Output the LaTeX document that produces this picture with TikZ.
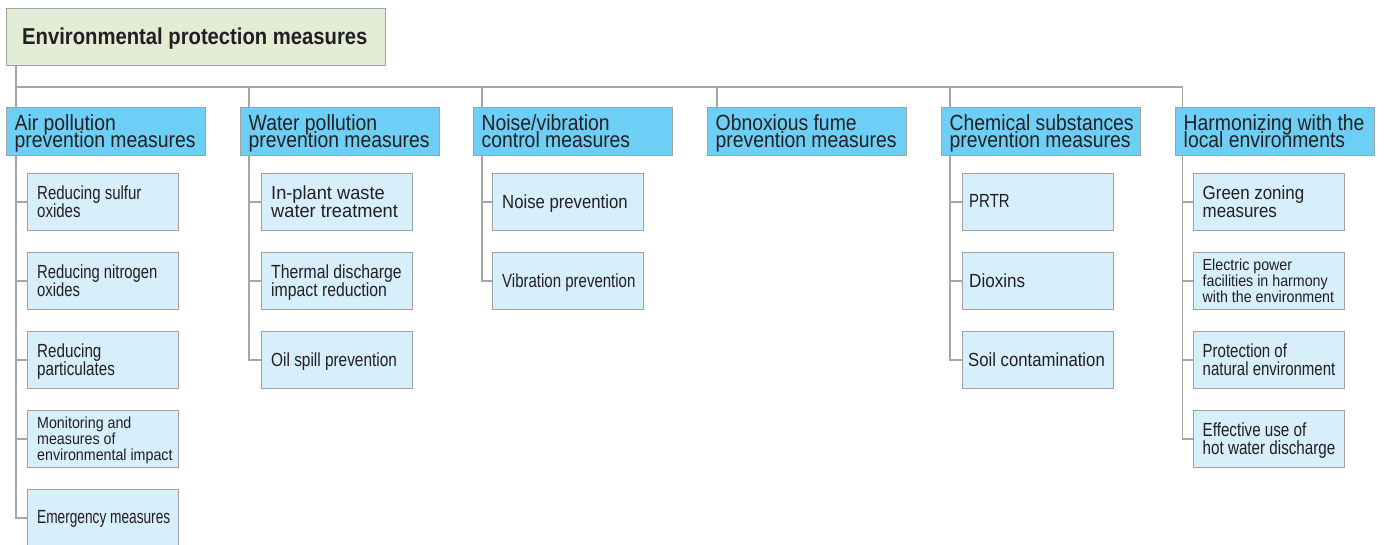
\documentclass[tikz,border=0pt]{standalone}
\usepackage{fontspec}
\setmainfont{Liberation Sans}
\definecolor{headfill}{HTML}{E3ECD4}
\definecolor{groupfill}{HTML}{6DCFF6}
\definecolor{itemfill}{HTML}{D7EEFB}
\definecolor{edgegray}{HTML}{9FA1A4}
\definecolor{wiregray}{HTML}{A4A6A9}
\definecolor{ink}{HTML}{231F20}

% box node plus its label, placed by the label's top-left corner inside the box
% #1 name, #2 box style, #3 x, #4 y, #5 label dx, #6 label dy, #7 label style, #8 text
\newcommand\putbox[8]{%
  \node[#2] (#1) at (#3,#4) {};
  \node[#7] (#1-t) at ([shift={(#5,#6)}]#1.north west) {#8};}

\begin{document}
% tight leading: keep baselines fixed even where descenders meet ascenders
\lineskiplimit=-100pt
\begin{tikzpicture}[x=1pt,y=-1pt,
  frame/.style={draw=edgegray, line width=1.4pt, rectangle, inner sep=0pt, anchor=north west},
  headbox/.style={frame, fill=headfill, minimum width=379pt, minimum height=57pt},
  groupbox/.style={frame, fill=groupfill, minimum width=199pt, minimum height=48pt},
  itembox/.style={frame, fill=itemfill, minimum width=151pt, minimum height=57pt},
  wire/.style={draw=wiregray, line width=1.9pt},
  lbl/.style={anchor=north west, align=left, inner sep=0pt, text=ink},
  headlbl/.style={lbl, font=\fontsize{23}{23}\selectfont\bfseries\addfontfeatures{FakeStretch=0.88}},
  grouplbl/.style={lbl, font=\fontsize{22}{16.5}\selectfont\addfontfeatures{FakeStretch=0.88}},
  itemlbl/.style={lbl, font=\fontsize{19}{17.3}\selectfont\addfontfeatures{FakeStretch=#1}},
  smalllbl/.style={lbl, font=\fontsize{16}{15.8}\selectfont\addfontfeatures{FakeStretch=0.89}},
]
\useasboundingbox (0,0) rectangle (1384,544);
\clip (0,0) rectangle (1384,544);

% title
\putbox{head}{headbox}{6}{7.5}{16}{20.5}{headlbl}{Environmental protection measures}

% groups
\putbox{air}{groupbox}{6}{107}{8.5}{7.5}{grouplbl}{Air pollution\\prevention measures}
\putbox{water}{groupbox}{240}{107}{8.5}{7.5}{grouplbl}{Water pollution\\prevention measures}
\putbox{noise}{groupbox}{473}{107}{8.5}{7.5}{grouplbl}{Noise/vibration\\control measures}
\putbox{fume}{groupbox}{707}{107}{8.5}{7.5}{grouplbl}{Obnoxious fume\\prevention measures}
\putbox{chem}{groupbox}{941}{107}{8.5}{7.5}{grouplbl}{Chemical substances\\prevention measures}
\putbox{local}{groupbox}{1175}{107}{8.5}{7.5}{grouplbl}{Harmonizing with the\\local environments}

% air pollution items
\putbox{air1}{itembox}{27}{173}{10}{13}{itemlbl=0.79}{Reducing sulfur\\oxides}
\putbox{air2}{itembox}{27}{252}{10}{13}{itemlbl=0.78}{Reducing nitrogen\\oxides}
\putbox{air3}{itembox}{27}{331}{10}{13}{itemlbl=0.80}{Reducing\\particulates}
\putbox{air4}{itembox}{27}{410}{10}{7}{smalllbl}{Monitoring and\\measures of\\environmental impact}
\putbox{air5}{itembox}{27}{489}{10}{21.7}{itemlbl=0.72}{Emergency measures}

% water pollution items
\putbox{water1}{itembox}{261}{173}{10}{13}{itemlbl=0.96}{In-plant waste\\water treatment}
\putbox{water2}{itembox}{261}{252}{10}{13}{itemlbl=0.83}{Thermal discharge\\impact reduction}
\putbox{water3}{itembox}{261}{331}{10}{21.7}{itemlbl=0.81}{Oil spill prevention}

% noise items
\putbox{noise1}{itembox}{492}{173}{10}{21.7}{itemlbl=0.88}{Noise prevention}
\putbox{noise2}{itembox}{492}{252}{10}{21.7}{itemlbl=0.79}{Vibration prevention}

% chemical items
\putbox{chem1}{itembox}{962}{173}{7}{21.7}{itemlbl=0.79}{PRTR}
\putbox{chem2}{itembox}{962}{252}{7}{21.7}{itemlbl=0.90}{Dioxins}
\putbox{chem3}{itembox}{962}{331}{6}{21.7}{itemlbl=0.88}{Soil contamination}

% local environment items
\putbox{local1}{itembox}{1193}{173}{9.5}{13}{itemlbl=0.89}{Green zoning\\measures}
\putbox{local2}{itembox}{1193}{252}{9.5}{7}{smalllbl}{Electric power\\facilities in harmony\\with the environment}
\putbox{local3}{itembox}{1193}{331}{9.5}{13}{itemlbl=0.79}{Protection of\\natural environment}
\putbox{local4}{itembox}{1193}{410}{9.5}{13}{itemlbl=0.80}{Effective use of\\hot water discharge}

% drop points on the top edge of each group
\coordinate (air-x)   at ([xshift=10pt]air.north west);
\coordinate (water-x) at ([xshift=9pt]water.north west);
\coordinate (noise-x) at ([xshift=9pt]noise.north west);
\coordinate (fume-x)  at ([xshift=10pt]fume.north west);
\coordinate (chem-x)  at ([xshift=9pt]chem.north west);
\coordinate (local-x) at ([xshift=7.5pt]local.north west);
\coordinate (trunk)   at ([xshift=10pt]head.south west);
\coordinate (bus)     at (16,87);

% title to groups
\draw[wire] (trunk) -- (air-x);
\draw[wire] (bus) -- (bus -| local-x);
\foreach \g in {water,noise,fume,chem,local}
  \draw[wire] (bus -| \g-x) -- (\g-x);

% groups to items
\foreach \g/\items in {air/{air1,air2,air3,air4,air5},
                       water/{water1,water2,water3},
                       noise/{noise1,noise2},
                       chem/{chem1,chem2,chem3},
                       local/{local1,local2,local3,local4}}
  \foreach \i in \items
    \draw[wire] (\g-x |- \g.south) |- (\i.west);
\end{tikzpicture}
\end{document}
